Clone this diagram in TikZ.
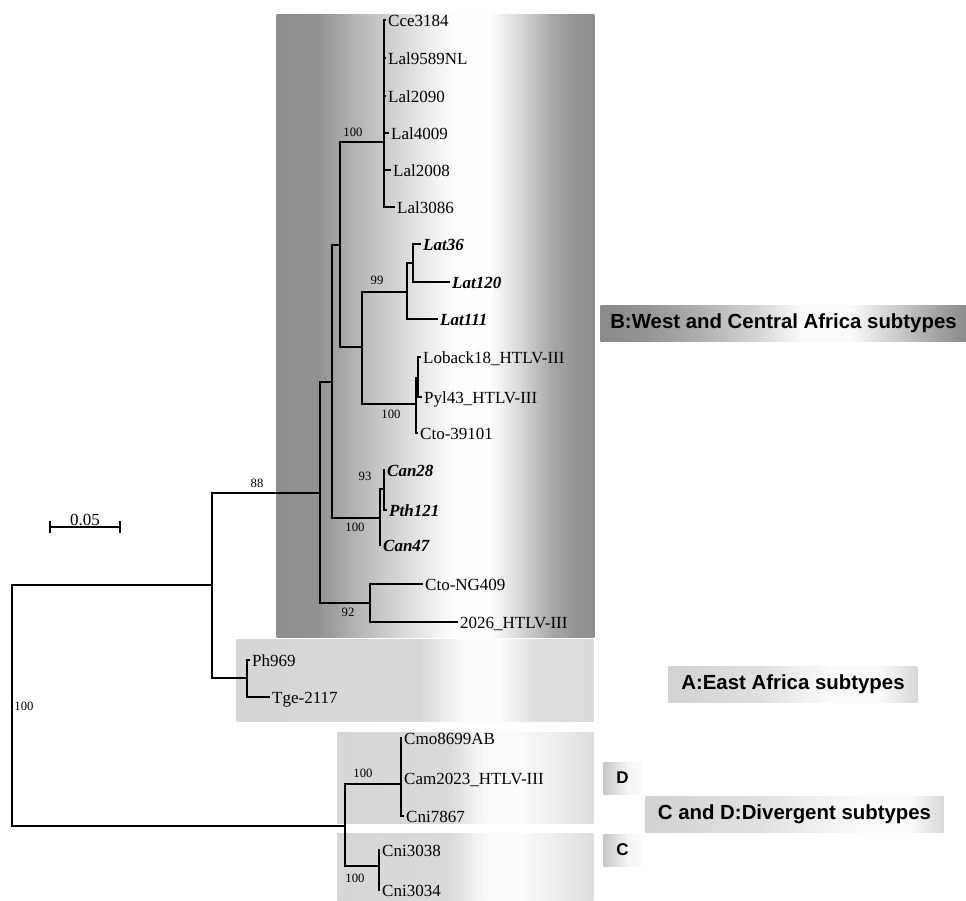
\documentclass[tikz,border=0pt]{standalone}
\usepackage{fontspec}
\setmainfont{Liberation Serif}
\newfontfamily\labsans{Liberation Sans}
% piecewise-linear horizontal gray gradient: #1 = top y, #2 = bottom y, #3 = list x1/g1/x2/g2
\newcommand\mygradbox[3]{%
  \foreach \xa/\ga/\xb/\gb in {#3}{%
    \shade[left color={rgb,255:red,\ga;green,\ga;blue,\ga}, right color={rgb,255:red,\gb;green,\gb;blue,\gb}]
      (\xa-0.3,#1) rectangle (\xb+0.3,#2);
  }%
}
\tikzset{
  br/.style={line width=1.2pt, black},
  leaf/.style={anchor=base west, yshift=-6.5pt, inner xsep=2pt, inner ysep=0pt, font=\fontsize{17}{17}\selectfont},
  bleaf/.style={leaf, font=\fontsize{17}{17}\selectfont\bfseries\itshape},
  bs/.style={inner sep=0pt, font=\fontsize{12.7}{12.7}\selectfont},
  labtxt/.style={inner sep=0pt, font=\labsans\bfseries\fontsize{20.4}{20.4}\selectfont},
  smalltxt/.style={inner sep=0pt, font=\labsans\bfseries\fontsize{17}{17}\selectfont}
}
\begin{document}
\begin{tikzpicture}[x=1pt,y=-1pt]
\useasboundingbox (0,0) rectangle (966,901);
% background clade boxes
\mygradbox{15}{637}{277/142/318/145, 318/145/350/175, 350/175/400/215, 400/215/440/245, 440/245/458/254, 458/254/490/254, 490/254/520/215, 520/215/550/170, 550/170/575/148, 575/148/594/143}
\mygradbox{639}{721}{237/214/420/216, 420/216/462/250, 462/250/500/252, 500/252/535/222, 535/222/593/218}
\mygradbox{732}{823}{338/214/450/218, 450/218/485/250, 485/250/522/250, 522/250/593/222}
\mygradbox{833}{901}{338/214/450/218, 450/218/485/250, 485/250/522/250, 522/250/593/222}
% right label boxes
\mygradbox{305}{341}{601/138/650/150, 650/150/700/175, 700/175/760/215, 760/215/800/250, 800/250/850/250, 850/250/900/200, 900/200/940/160, 940/160/966/140}
\mygradbox{666}{702}{669/210/760/224, 760/224/830/250, 830/250/880/250, 880/250/917/215}
\mygradbox{762}{794}{604/200/628/245, 628/245/641/250}
\mygradbox{796}{832}{646/210/760/225, 760/225/860/250, 860/250/910/250, 910/250/943/215}
\mygradbox{834}{866}{604/200/628/245, 628/245/641/250}
\node[labtxt] (labB) at (783.5,323) {B:West and Central Africa subtypes};
\node[labtxt] (labA) at (793,684) {A:East Africa subtypes};
\node[smalltxt] (labD) at (622.5,778) {D};
\node[labtxt] (labCD) at (794.5,814) {C and D:Divergent subtypes};
\node[smalltxt] (labC) at (622.5,850) {C};
% tree nodes
\coordinate (R) at (12,705);
\coordinate (N88) at (212,585);
\coordinate (NA) at (247,678);
\coordinate (tPh) at (250,660);
\coordinate (tTge) at (270,697);
\coordinate (NB) at (320,493);
\coordinate (NNG) at (370,603);
\coordinate (tNG) at (423,584);
\coordinate (t2026) at (458,622);
\coordinate (N1) at (332,382);
\coordinate (N2) at (340,245);
\coordinate (NLal) at (384,142);
\coordinate (tCce) at (386,20);
\coordinate (tL9589) at (386,58);
\coordinate (tL2090) at (386,96);
\coordinate (tL4009) at (389,133);
\coordinate (tL2008) at (391,170);
\coordinate (tL3086) at (395,207);
\coordinate (N3) at (362,347);
\coordinate (NLat) at (407,292);
\coordinate (NLat2) at (413,263);
\coordinate (tLat36) at (421,244);
\coordinate (tLat120) at (450,282);
\coordinate (tLat111) at (438,319);
\coordinate (NLo) at (416,404);
\coordinate (NLo2) at (418,378);
\coordinate (tLob) at (421,357);
\coordinate (tPyl) at (422,397);
\coordinate (tCto) at (418,433);
\coordinate (NCan) at (380,518);
\coordinate (NCan2) at (384,489);
\coordinate (tCan28) at (385,470);
\coordinate (tPth) at (387,510);
\coordinate (tCan47) at (381,545);
\coordinate (NCD) at (345,826);
\coordinate (ND) at (401,784);
\coordinate (tCmo) at (402,738);
\coordinate (tCam) at (402,778);
\coordinate (tCni78) at (404,816);
\coordinate (NC) at (379,866);
\coordinate (tCni38) at (380,850);
\coordinate (tCni34) at (380,890);
% branches
\draw[br] (R) |- (N88);
\draw[br] (R) |- (NCD);
\draw[br] (N88) |- (NB);
\draw[br] (N88) |- (NA);
\draw[br] (NA) |- (tPh);
\draw[br] (NA) |- (tTge);
\draw[br] (NB) |- (N1);
\draw[br] (NB) |- (NNG);
\draw[br] (NNG) |- (tNG);
\draw[br] (NNG) |- (t2026);
\draw[br] (N1) |- (N2);
\draw[br] (N1) |- (NCan);
\draw[br] (N2) |- (NLal);
\draw[br] (N2) |- (N3);
\draw[br] (NLal) |- (tCce);
\draw[br] (NLal) |- (tL9589);
\draw[br] (NLal) |- (tL2090);
\draw[br] (NLal) |- (tL4009);
\draw[br] (NLal) |- (tL2008);
\draw[br] (NLal) |- (tL3086);
\draw[br] (N3) |- (NLat);
\draw[br] (N3) |- (NLo);
\draw[br] (NLat) |- (NLat2);
\draw[br] (NLat) |- (tLat111);
\draw[br] (NLat2) |- (tLat36);
\draw[br] (NLat2) |- (tLat120);
\draw[br] (NLo) |- (NLo2);
\draw[br] (NLo) |- (tCto);
\draw[br] (NLo2) |- (tLob);
\draw[br] (NLo2) |- (tPyl);
\draw[br] (NCan) |- (NCan2);
\draw[br] (NCan) |- (tCan47);
\draw[br] (NCan2) |- (tCan28);
\draw[br] (NCan2) |- (tPth);
\draw[br] (NCD) |- (ND);
\draw[br] (NCD) |- (NC);
\draw[br] (ND) |- (tCmo);
\draw[br] (ND) |- (tCam);
\draw[br] (ND) |- (tCni78);
\draw[br] (NC) |- (tCni38);
\draw[br] (NC) |- (tCni34);
% leaf labels
\node[leaf] (lCce) at (tCce) {Cce3184};
\node[leaf] (lL9589) at (tL9589) {Lal9589NL};
\node[leaf] (lL2090) at (tL2090) {Lal2090};
\node[leaf] (lL4009) at (tL4009) {Lal4009};
\node[leaf] (lL2008) at (tL2008) {Lal2008};
\node[leaf] (lL3086) at (tL3086) {Lal3086};
\node[bleaf] (lLat36) at (tLat36) {Lat36};
\node[bleaf] (lLat120) at (tLat120) {Lat120};
\node[bleaf] (lLat111) at (tLat111) {Lat111};
\node[leaf] (lLob) at (tLob) {Loback18\_HTLV-III};
\node[leaf] (lPyl) at (tPyl) {Pyl43\_HTLV-III};
\node[leaf] (lCto) at (tCto) {Cto-39101};
\node[bleaf] (lCan28) at (tCan28) {Can28};
\node[bleaf] (lPth) at (tPth) {Pth121};
\node[bleaf] (lCan47) at (tCan47) {Can47};
\node[leaf] (lNG) at (tNG) {Cto-NG409};
\node[leaf] (l2026) at (t2026) {2026\_HTLV-III};
\node[leaf] (lPh) at (tPh) {Ph969};
\node[leaf] (lTge) at (tTge) {Tge-2117};
\node[leaf] (lCmo) at (tCmo) {Cmo8699AB};
\node[leaf] (lCam) at (tCam) {Cam2023\_HTLV-III};
\node[leaf] (lCni78) at (tCni78) {Cni7867};
\node[leaf] (lCni38) at (tCni38) {Cni3038};
\node[leaf] (lCni34) at (tCni34) {Cni3034};
% bootstrap values
\node[bs] (bR) at (24,706) {100};
\node[bs] (b88) at (257,483) {88};
\node[bs] (bLal) at (353,132) {100};
\node[bs] (bLat) at (377,280) {99};
\node[bs] (bLo) at (391,414) {100};
\node[bs] (bCan2) at (365,476) {93};
\node[bs] (bCan) at (355,527) {100};
\node[bs] (bNG) at (348,612) {92};
\node[bs] (bD) at (363,773) {100};
\node[bs] (bC) at (355,878) {100};
% scale bar
\coordinate (s1) at (50,527);
\coordinate (s2) at (120,527);
\draw[br] (s1) -- (s2);
\draw[br] ([yshift=6pt]s1) -- ([yshift=-6pt]s1);
\draw[br] ([yshift=6pt]s2) -- ([yshift=-6pt]s2);
\node[anchor=base, inner sep=0pt, font=\fontsize{17}{17}\selectfont] (sLab) at (85,525) {0.05};
\end{tikzpicture}
\end{document}
